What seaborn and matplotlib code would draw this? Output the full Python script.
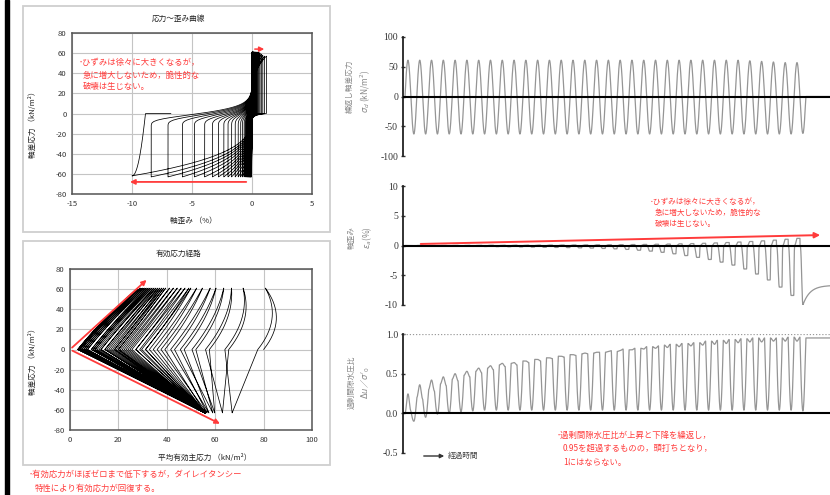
import numpy as np
import pandas as pd
import matplotlib
matplotlib.use("Agg")
import matplotlib.pyplot as plt
import seaborn as sns
from matplotlib.patches import Rectangle, FancyArrowPatch

sns.set_theme(style="white")
plt.rcParams["font.family"] = ["Noto Sans CJK JP", "DejaVu Sans"]
plt.rcParams["axes.unicode_minus"] = False

# ---------------- data (per loading cycle) ----------------
cycle_q_peak = [61] * 29 + [60, 59, 58, 57, 57]          # deviator stress peaks (kN/m2)
cycle_q_trough = [-63] * 33 + [-62]                      # deviator stress troughs (kN/m2)
cycle_eps_peak = [0.00, 0.01, 0.01, 0.02, 0.02, 0.03, 0.03, 0.04, 0.04, 0.05,
                  0.05, 0.06, 0.07, 0.08, 0.09, 0.10, 0.11, 0.12, 0.14, 0.16,
                  0.18, 0.21, 0.24, 0.28, 0.32, 0.37, 0.43, 0.50, 0.58, 0.67,
                  0.78, 0.90, 1.05, 1.20]                 # axial strain peaks (%)
cycle_eps_trough = [-0.05, -0.07, -0.09, -0.11, -0.13, -0.15, -0.17, -0.19, -0.21, -0.24,
                    -0.27, -0.30, -0.33, -0.36, -0.40, -0.44, -0.50, -0.57, -0.66, -0.80,
                    -0.95, -1.15, -1.40, -1.70, -2.00, -2.35, -2.80, -3.30, -3.95, -4.80,
                    -5.80, -7.00, -8.40, -10.0]          # axial strain troughs (%)
eps_final = -6.7
ru_rise = [0.00, 0.20, 0.30, 0.37, 0.43, 0.48, 0.53, 0.57, 0.61, 0.63,
           0.66, 0.68, 0.70, 0.72, 0.74, 0.75, 0.76, 0.77, 0.78, 0.80,
           0.82, 0.84, 0.86, 0.87, 0.88, 0.89, 0.91, 0.92, 0.93, 0.94,
           0.95, 0.95, 0.95, 0.96]                       # pore pressure ratio at q=0 (loading)
ru_top = [0.245, 0.36, 0.42, 0.46, 0.50, 0.53, 0.57, 0.60, 0.63, 0.64,
          0.66, 0.68, 0.70, 0.72, 0.74, 0.76, 0.77, 0.78, 0.79, 0.80,
          0.81, 0.82, 0.83, 0.84, 0.85, 0.86, 0.87, 0.88, 0.89, 0.90,
          0.90, 0.91, 0.91, 0.91]                        # ratio at peak stress
ru_fall = [0.03, 0.18, 0.28, 0.35, 0.41, 0.46, 0.51, 0.55, 0.59, 0.61,
           0.64, 0.66, 0.69, 0.71, 0.73, 0.75, 0.77, 0.79, 0.81, 0.82,
           0.84, 0.85, 0.87, 0.88, 0.89, 0.91, 0.92, 0.93, 0.94, 0.95,
           0.95, 0.95, 0.96, 0.96]                       # ratio at q=0 (unloading)
ru_min = [-0.10, -0.05, -0.01, 0.00, 0.02, 0.03] + [0.04] * 27 + [0.03]  # ratio at stress trough
ru_final = 0.95
p0 = 80.0                                                # initial mean effective stress

y_ticks_q = [-80, -60, -40, -20, 0, 20, 40, 60, 80]
x_ticks_strain = [-15, -10, -5, 0, 5]
x_ticks_p = [0, 20, 40, 60, 80, 100]

# ---------------- build the time histories from the cycle values ----------------
N = len(cycle_q_peak)
spc = 300
t = np.arange(N * spc) / spc
k = t.astype(int)
u = t - k
quarter = np.minimum((u * 4).astype(int), 3)
v = u * 4 - quarter
phi = 2 * np.pi * u
qp = np.array(cycle_q_peak, float)
qt = np.array(cycle_q_trough, float)
q = np.where(u < 0.5, qp[k] * np.sin(phi), -qt[k] * np.sin(phi))

ep = np.array(cycle_eps_peak)
et = np.array(cycle_eps_trough)
et_prev = np.r_[0.0, et[:-1]][k]
qt_prev = np.r_[-63.0, qt[:-1]][k]


def rec(s):
    return 1 - np.exp(-np.exp(-(s + 1.5) / 5.0))


conds = [quarter == 0, quarter == 1, quarter == 2, quarter == 3]
eps_e = np.select(conds, [et_prev * rec(q) / rec(qt_prev), 0 * q,
                          et[k] * np.abs(q / qt[k]) ** 3, et[k] * rec(q) / rec(qt[k])])
eps_c = np.select(conds, [ep[k] * np.abs(q / qp[k]) ** 4, ep[k] + 0 * q,
                          ep[k] * np.exp(np.minimum(q, 0) / 1.5), 0 * q])
eps = eps_c + eps_e
t_last = N - 0.25
m = (k == N - 1) & (quarter == 3)
eps[m] = et[-1] + (eps_final - et[-1]) * (1 - np.exp(-(t[m] - t_last) / 0.6))

Rr, Rt, Rf, Rm = (np.array(a, float) for a in (ru_rise, ru_top, ru_fall, ru_min))
Rn = np.r_[Rr[1:], ru_final][k]
ease = (1 - np.cos(np.pi * v)) / 2
ru = np.select(conds, [Rr[k] + (Rt[k] - Rr[k]) * ease,
                       Rt[k] + (Rf[k] - Rt[k]) * ease,
                       Rf[k] + (Rm[k] - Rf[k]) * np.sin(np.pi * v / 2),
                       Rn + (Rm[k] - Rn) * np.cos(np.pi * v / 2)])

tt = N + np.arange(1, int(2.2 * spc)) / spc
t = np.r_[t, tt]
q = np.r_[q, np.zeros_like(tt)]
eps = np.r_[eps, et[-1] + (eps_final - et[-1]) * (1 - np.exp(-(tt - t_last) / 0.6))]
ru = np.r_[ru, np.full_like(tt, ru_final)]
p_eff = p0 * (1 - ru) + q / 3.0

df = pd.DataFrame({"t": t, "q": q, "eps": eps, "ru": ru, "p": p_eff})

# ---------------- figure ----------------
W, H = 830, 495
fig = plt.figure(figsize=(W / 100, H / 100), dpi=100)
fig.patch.set_facecolor("white")


def fx(x):
    return x / W


def fy(y):
    return 1 - y / H


def ax_rect(x0, y0, x1, y1):
    return [fx(x0), fy(y1), (x1 - x0) / W, (y1 - y0) / H]


RED = "#ff3b3b"
fig.patches.append(Rectangle((fx(5), 0), 4 / W, 1, transform=fig.transFigure,
                             color="black", zorder=5))
for (x0, y0, x1, y1) in [(23, 6, 330, 232), (23, 241, 330, 465)]:
    fig.patches.append(Rectangle((fx(x0), fy(y1)), (x1 - x0) / W, (y1 - y0) / H,
                                 transform=fig.transFigure, fill=False,
                                 edgecolor="#cfcfcf", lw=1.3))

small = 5.5


def style_left(ax):
    ax.grid(True, color="#c4c4c4", lw=0.8)
    for s in ax.spines.values():
        s.set_color("#555555")
        s.set_linewidth(1.1)
    ax.tick_params(length=0, labelsize=small, colors="#333333", pad=4)
    ax.set_xlabel("")
    ax.set_ylabel("")
    ax.set_facecolor("white")


# --- stress-strain ---
ax1 = fig.add_axes(ax_rect(72, 33, 312, 194))
sns.lineplot(data=df, x="eps", y="q", sort=False, estimator=None, ax=ax1,
             color="black", lw=0.55)
ax1.set_xlim(-15, 5)
ax1.set_ylim(-80, 80)
ax1.set_xticks(x_ticks_strain)
ax1.set_yticks(y_ticks_q)
style_left(ax1)
ax1.annotate("", xy=(1.25, 64), xytext=(0.0, 64),
             arrowprops=dict(arrowstyle="-|>", color=RED, lw=1.1, mutation_scale=7))
ax1.annotate("", xy=(-10.4, -68), xytext=(-0.25, -68),
             arrowprops=dict(arrowstyle="-|>", color=RED, lw=1.3, mutation_scale=7))
fig.text(fx(178), fy(19), "応力～歪み曲線", fontsize=small, ha="center", va="center", color="#222")
fig.text(fx(193), fy(221), "軸歪み （%）", fontsize=small, ha="center", va="center", color="#222")
fig.text(fx(33), fy(123), "軸差応力 （kN/m²）", fontsize=small, ha="center", va="center",
         rotation=90, color="#222")
fig.text(fx(79), fy(62), "･ひずみは徐々に大きくなるが，", fontsize=6, color=RED, va="center")
fig.text(fx(83), fy(75), "急に増大しないため，脆性的な", fontsize=6, color=RED, va="center")
fig.text(fx(83), fy(87), "破壊は生じない。", fontsize=6, color=RED, va="center")

# --- effective stress path ---
ax2 = fig.add_axes(ax_rect(70, 269, 312, 430))
sns.lineplot(data=df, x="p", y="q", sort=False, estimator=None, ax=ax2,
             color="black", lw=0.55)
ax2.set_xlim(0, 100)
ax2.set_ylim(-80, 80)
ax2.set_xticks(x_ticks_p)
ax2.set_yticks(y_ticks_q)
style_left(ax2)
ax2.annotate("", xy=(32.5, 71), xytext=(0, 0),
             arrowprops=dict(arrowstyle="-|>", color=RED, lw=1.3, mutation_scale=7))
ax2.annotate("", xy=(63, -75), xytext=(0, 0),
             arrowprops=dict(arrowstyle="-|>", color=RED, lw=1.3, mutation_scale=7))
fig.text(fx(179), fy(254), "有効応力経路", fontsize=small, ha="center", va="center", color="#222")
fig.text(fx(205), fy(458), "平均有効主応力 （kN/m²）", fontsize=small, ha="center", va="center", color="#222")
fig.text(fx(33), fy(360), "軸差応力 （kN/m²）", fontsize=small, ha="center", va="center",
         rotation=90, color="#222")
fig.text(fx(29), fy(474), "･有効応力がほぼゼロまで低下するが，ダイレイタンシー", fontsize=6,
         color=RED, va="center")
fig.text(fx(35), fy(488), "特性により有効応力が回復する。", fontsize=6, color=RED, va="center")

# --- right time histories ---
GRAY = "#959595"
tlim = (-0.17, 36.05)


def style_right(ax, ticks, labels):
    ax.set_xlim(*tlim)
    ax.set_ylim(ticks[0], ticks[-1])
    ax.set_yticks(ticks)
    ax.set_yticklabels(labels)
    ax.set_xticks([])
    for s in ["top", "right", "bottom"]:
        ax.spines[s].set_visible(False)
    ax.spines["left"].set_color("#222")
    ax.spines["left"].set_linewidth(1.3)
    ax.tick_params(axis="y", direction="inout", length=3, width=1, colors="#333",
                   labelsize=7, pad=2, left=True)
    ax.tick_params(axis="y", labelfontfamily="Liberation Serif")
    ax.set_xlabel("")
    ax.set_ylabel("")
    ax.set_facecolor("none")
    ax.axhline(0, color="black", lw=1.5, zorder=3)


ax3 = fig.add_axes(ax_rect(403, 37, 830, 156))
sns.lineplot(data=df, x="t", y="q", sort=False, estimator=None, ax=ax3, color=GRAY, lw=0.9)
style_right(ax3, [-100, -50, 0, 50, 100], ["-100", "-50", "0", "50", "100"])
fig.text(fx(350), fy(86), "繰返し軸差応力", fontsize=5.5, rotation=90, ha="center", va="center", color="#888")
fig.text(fx(365), fy(91), r"$\sigma_d$ (kN/m$^2$)", fontsize=6, rotation=90, ha="center",
         va="center", color="#888")

ax4 = fig.add_axes(ax_rect(403, 186, 830, 305))
sns.lineplot(data=df, x="t", y="eps", sort=False, estimator=None, ax=ax4, color=GRAY, lw=0.9)
style_right(ax4, [-10, -5, 0, 5, 10], ["-10", "-5", "0", "5", "10"])
ax4.annotate("", xy=(35.45, 1.76), xytext=(1.1, 0.25),
             arrowprops=dict(arrowstyle="-|>", color=RED, lw=1.4, mutation_scale=8), zorder=6)
fig.text(fx(352), fy(238), "軸歪み", fontsize=5.5, rotation=90, ha="center", va="center", color="#888")
fig.text(fx(367), fy(238), r"$\varepsilon_a$(%)", fontsize=6, rotation=90, ha="center",
         va="center", color="#888")
fig.text(fx(650), fy(202), "･ひずみは徐々に大きくなるが，", fontsize=5.5, color=RED, va="center")
fig.text(fx(655), fy(213), "急に増大しないため，脆性的な", fontsize=5.5, color=RED, va="center")
fig.text(fx(655), fy(224), "破壊は生じない。", fontsize=5.5, color=RED, va="center")

ax5 = fig.add_axes(ax_rect(403, 334, 830, 453))
sns.lineplot(data=df, x="t", y="ru", sort=False, estimator=None, ax=ax5, color=GRAY, lw=0.9)
style_right(ax5, [-0.5, 0.0, 0.5, 1.0], ["-0.5", "0.0", "0.5", "1.0"])
ax5.axhline(1.0, color="#9a9a9a", lw=0.9, ls=(0, (1, 1.5)))
fig.text(fx(352), fy(382), "過剰間隙水圧比", fontsize=5.5, rotation=90, ha="center", va="center", color="#888")
fig.text(fx(365), fy(383), r"$\Delta u$／$\sigma'_0$", fontsize=6, rotation=90, ha="center",
         va="center", color="#888")
fig.text(fx(557), fy(435), "･過剰間隙水圧比が上昇と下降を繰返し，", fontsize=6, color=RED, va="center")
fig.text(fx(563), fy(448), "0.95を超過するものの，頭打ちとなり，", fontsize=6, color=RED, va="center")
fig.text(fx(563), fy(462), "1にはならない。", fontsize=6, color=RED, va="center")
fig.patches.append(FancyArrowPatch(
    (fx(421), fy(456)), (fx(447), fy(456)), transform=fig.transFigure,
    arrowstyle="-|>", mutation_scale=6, color="#333", lw=1.0))
fig.text(fx(448), fy(456), "経過時間", fontsize=5.5, color="#444", va="center")

fig.savefig("out.png", dpi=100, facecolor="white")
